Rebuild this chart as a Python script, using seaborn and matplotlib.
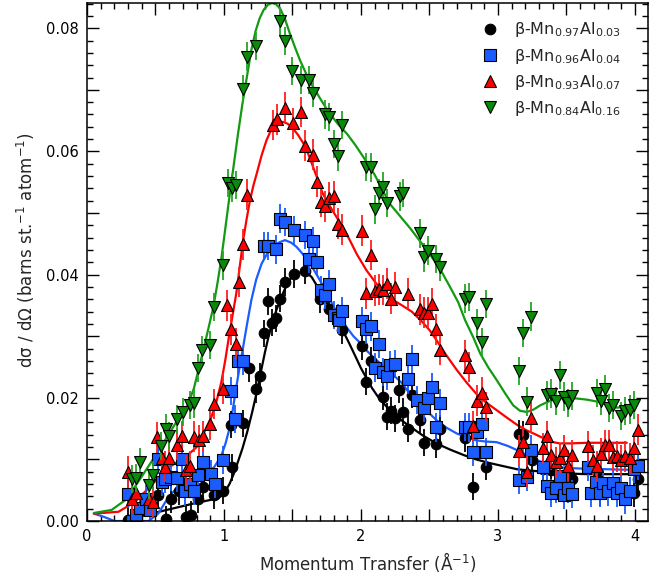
import numpy as np
import pandas as pd
import matplotlib
matplotlib.use("Agg")
import matplotlib.pyplot as plt
from matplotlib.ticker import MultipleLocator, FuncFormatter
import seaborn as sns

# ---------------------------------------------------------------- data
# beta-Mn(0.97)Al(0.03)
q_a = [0.30, 0.52, 0.58, 0.61, 0.67, 0.72, 0.76, 0.81, 0.85, 0.93, 0.995,
       1.05, 1.06, 1.14, 1.18, 1.23, 1.26, 1.29, 1.32, 1.35, 1.38, 1.41,
       1.445, 1.51, 1.59, 1.70, 1.77, 1.865, 2.01, 2.04, 2.07, 2.16, 2.19,
       2.22, 2.25, 2.28, 2.31, 2.34, 2.37, 2.43, 2.46, 2.55, 2.58, 2.76,
       2.82, 2.91, 3.15, 3.18, 3.245, 3.33, 3.39, 3.54, 3.72, 3.745, 3.99, 4.02]
s_a = [0.0002, 0.0042, 0.0003, 0.0035, 0.0048, 0.0006, 0.0010, 0.0035, 0.0055,
       0.0042, 0.0049, 0.0156, 0.0087, 0.0159, 0.0248, 0.0214, 0.0235, 0.0305,
       0.0357, 0.0322, 0.0329, 0.0361, 0.0388, 0.0401, 0.0406, 0.0360, 0.0345,
       0.0310, 0.0284, 0.0226, 0.0260, 0.0202, 0.0169, 0.0179, 0.0167, 0.0213,
       0.0177, 0.0150, 0.0205, 0.0164, 0.0127, 0.0125, 0.0150, 0.0134, 0.0056,
       0.0088, 0.0142, 0.0140, 0.0099, 0.0084, 0.0083, 0.0069, 0.0069, 0.0046,
       0.0045, 0.0069]

# beta-Mn(0.96)Al(0.04)
q_b = [0.30, 0.33, 0.36, 0.39, 0.43, 0.46, 0.52, 0.545, 0.57, 0.61, 0.66,
       0.69, 0.715, 0.75, 0.78, 0.81, 0.85, 0.905, 0.934, 0.99, 1.05, 1.08,
       1.10, 1.14, 1.29, 1.32, 1.38, 1.41, 1.445, 1.51, 1.59, 1.62, 1.65,
       1.68, 1.71, 1.74, 1.77, 1.80, 1.83, 1.84, 1.86, 2.01, 2.04, 2.07,
       2.10, 2.13, 2.16, 2.19, 2.21, 2.25, 2.34, 2.37, 2.41, 2.46, 2.49,
       2.52, 2.55, 2.58, 2.76, 2.79, 2.82, 2.85, 2.88, 2.91, 3.15, 3.21,
       3.24, 3.33, 3.355, 3.39, 3.42, 3.45, 3.48, 3.51, 3.54, 3.66, 3.68,
       3.715, 3.745, 3.77, 3.805, 3.84, 3.87, 3.90, 3.93, 3.96, 3.99, 4.02]
s_b = [0.0044, 0.0000, 0.0010, 0.0021, 0.0035, 0.0018, 0.0100, 0.0064, 0.0069,
       0.0071, 0.0070, 0.0100, 0.0048, 0.0060, 0.0049, 0.0074, 0.0095, 0.0076,
       0.0060, 0.0099, 0.0211, 0.0166, 0.0260, 0.0260, 0.0446, 0.0446, 0.0441,
       0.0491, 0.0485, 0.0472, 0.0464, 0.0425, 0.0455, 0.0420, 0.0375, 0.0367,
       0.0385, 0.0334, 0.0330, 0.0327, 0.0341, 0.0324, 0.0311, 0.0316, 0.0249,
       0.0287, 0.0242, 0.0236, 0.0253, 0.0255, 0.0230, 0.0263, 0.0196, 0.0183,
       0.0199, 0.0218, 0.0152, 0.0192, 0.0153, 0.0152, 0.0112, 0.0145, 0.0157,
       0.0112, 0.0067, 0.0072, 0.0116, 0.0088, 0.0057, 0.0046, 0.0053, 0.0073,
       0.0042, 0.0053, 0.0044, 0.0088, 0.0045, 0.0064, 0.0046, 0.0061, 0.0048,
       0.0061, 0.0046, 0.0053, 0.0035, 0.0048, 0.0084, 0.0089]

# beta-Mn(0.93)Al(0.07)
q_c = [0.30, 0.33, 0.36, 0.455, 0.48, 0.51, 0.545, 0.57, 0.60, 0.66, 0.69,
       0.72, 0.75, 0.78, 0.82, 0.845, 0.90, 0.93, 0.99, 1.02, 1.05, 1.085,
       1.11, 1.14, 1.17, 1.355, 1.385, 1.445, 1.505, 1.56, 1.59, 1.65, 1.68,
       1.71, 1.74, 1.77, 1.80, 1.83, 1.86, 2.005, 2.04, 2.07, 2.10, 2.13,
       2.16, 2.19, 2.22, 2.25, 2.34, 2.43, 2.46, 2.49, 2.52, 2.55, 2.58,
       2.76, 2.79, 2.82, 2.85, 2.88, 2.91, 3.15, 3.18, 3.21, 3.24, 3.33,
       3.36, 3.39, 3.42, 3.45, 3.48, 3.51, 3.54, 3.66, 3.69, 3.72, 3.75,
       3.78, 3.81, 3.84, 3.87, 3.90, 3.93, 3.96, 3.99, 4.02]
s_c = [0.0080, 0.0036, 0.0046, 0.0036, 0.0031, 0.0136, 0.0102, 0.0088, 0.0103,
       0.0124, 0.0138, 0.0082, 0.0089, 0.0137, 0.0131, 0.0138, 0.0157, 0.0190,
       0.0215, 0.0350, 0.0311, 0.0288, 0.0388, 0.0449, 0.0530, 0.0643, 0.0652,
       0.0671, 0.0646, 0.0664, 0.0609, 0.0595, 0.0551, 0.0518, 0.0511, 0.0525,
       0.0527, 0.0483, 0.0473, 0.0471, 0.0370, 0.0432, 0.0374, 0.0376, 0.0375,
       0.0385, 0.0361, 0.0380, 0.0369, 0.0344, 0.0338, 0.0338, 0.0353, 0.0311,
       0.0278, 0.0269, 0.0250, 0.0154, 0.0195, 0.0208, 0.0185, 0.0114, 0.0129,
       0.0080, 0.0168, 0.0118, 0.0138, 0.0107, 0.0095, 0.0102, 0.0115, 0.0090,
       0.0107, 0.0121, 0.0099, 0.0089, 0.0109, 0.0123, 0.0123, 0.0104, 0.0105,
       0.0099, 0.0105, 0.0102, 0.0118, 0.0148]

# beta-Mn(0.84)Al(0.16)
q_d = [0.33, 0.36, 0.39, 0.45, 0.48, 0.54, 0.58, 0.60, 0.66, 0.70, 0.75,
       0.78, 0.81, 0.84, 0.90, 0.93, 0.99, 1.03, 1.055, 1.09, 1.14, 1.17,
       1.23, 1.41, 1.445, 1.50, 1.56, 1.62, 1.65, 1.74, 1.77, 1.80, 1.83,
       1.86, 2.04, 2.07, 2.10, 2.13, 2.16, 2.19, 2.285, 2.31, 2.43, 2.46,
       2.49, 2.55, 2.58, 2.76, 2.79, 2.85, 2.88, 2.91, 3.155, 3.18, 3.21,
       3.24, 3.355, 3.39, 3.42, 3.45, 3.48, 3.51, 3.54, 3.72, 3.75, 3.78,
       3.81, 3.84, 3.90, 3.93, 3.96, 3.99]
s_d = [0.0068, 0.0070, 0.0096, 0.0058, 0.0074, 0.0122, 0.0150, 0.0138, 0.0165,
       0.0177, 0.0188, 0.0191, 0.0248, 0.0277, 0.0286, 0.0347, 0.0415, 0.0549,
       0.0541, 0.0545, 0.0701, 0.0754, 0.0771, 0.0811, 0.0779, 0.0731, 0.0716,
       0.0716, 0.0695, 0.0660, 0.0656, 0.0612, 0.0592, 0.0643, 0.0575, 0.0574,
       0.0506, 0.0532, 0.0543, 0.0516, 0.0527, 0.0533, 0.0467, 0.0428, 0.0439,
       0.0425, 0.0412, 0.0361, 0.0364, 0.0322, 0.0290, 0.0352, 0.0244, 0.0305,
       0.0194, 0.0332, 0.0204, 0.0207, 0.0195, 0.0237, 0.0202, 0.0192, 0.0203,
       0.0208, 0.0195, 0.0214, 0.0183, 0.0188, 0.0171, 0.0179, 0.0181, 0.0188]

# typical one-sigma uncertainty of each data set
err_a, err_b, err_c, err_d = 0.0022, 0.0023, 0.0025, 0.0023

# fitted model curves
fq_a = [0.27, 0.47, 0.62, 0.79, 0.96, 1.00, 1.04, 1.07, 1.10, 1.135, 1.17,
        1.205, 1.24, 1.27, 1.30, 1.33, 1.36, 1.385, 1.41, 1.435, 1.46, 1.485,
        1.51, 1.545, 1.58, 1.61, 1.64, 1.67, 1.70, 1.74, 1.78, 1.825, 1.87,
        1.915, 1.96, 2.00, 2.04, 2.08, 2.12, 2.165, 2.21, 2.28, 2.36, 2.45,
        2.55, 2.65, 2.75, 2.84, 2.94, 3.04, 3.14, 3.23, 3.33, 3.43, 3.53,
        3.65, 3.77, 3.88, 3.99]
fs_a = [0.0000, 0.0012, 0.0020, 0.0029, 0.0037, 0.0045, 0.0060, 0.0076, 0.0095,
        0.0118, 0.0145, 0.0176, 0.0210, 0.0243, 0.0275, 0.0304, 0.0328, 0.0344,
        0.0358, 0.0372, 0.0384, 0.0393, 0.0399, 0.0403, 0.0405, 0.0402, 0.0396,
        0.0385, 0.0372, 0.0358, 0.0343, 0.0326, 0.0308, 0.0288, 0.0267, 0.0248,
        0.0232, 0.0216, 0.0203, 0.0191, 0.0180, 0.0166, 0.0153, 0.0139, 0.0126,
        0.0116, 0.0107, 0.0100, 0.0094, 0.0089, 0.0084, 0.0082, 0.0080, 0.0078,
        0.0077, 0.0076, 0.0076, 0.0076, 0.0076]

fq_b = [0.05, 0.12, 0.20, 0.45, 0.52, 0.57, 0.62, 0.70, 0.80, 0.87, 0.93,
        0.98, 1.01, 1.04, 1.065, 1.09, 1.115, 1.14, 1.17, 1.20, 1.235, 1.275,
        1.32, 1.36, 1.40, 1.445, 1.49, 1.53, 1.565, 1.60, 1.65, 1.70, 1.75,
        1.80, 1.85, 1.90, 1.945, 1.99, 2.04, 2.09, 2.14, 2.19, 2.24, 2.29,
        2.36, 2.45, 2.55, 2.62, 2.70, 2.77, 2.84, 2.91, 2.99, 3.07, 3.14,
        3.21, 3.28, 3.355, 3.43, 3.52, 3.62, 3.80, 3.97]
fs_b = [0.0012, 0.0007, 0.0000, 0.0000, 0.0012, 0.0030, 0.0045, 0.0064, 0.0071,
        0.0076, 0.0088, 0.0106, 0.0125, 0.0150, 0.0182, 0.0218, 0.0251, 0.0283,
        0.0322, 0.0359, 0.0392, 0.0418, 0.0436, 0.0445, 0.0452, 0.0456, 0.0452,
        0.0445, 0.0436, 0.0426, 0.0410, 0.0391, 0.0370, 0.0348, 0.0330, 0.0313,
        0.0300, 0.0290, 0.0277, 0.0266, 0.0256, 0.0246, 0.0236, 0.0226, 0.0206,
        0.0185, 0.0164, 0.0152, 0.0142, 0.0136, 0.0131, 0.0129, 0.0128, 0.0122,
        0.0115, 0.0107, 0.0099, 0.0093, 0.0088, 0.0086, 0.0085, 0.0084, 0.0083]

fq_c = [0.05, 0.23, 0.35, 0.47, 0.59, 0.72, 0.81, 0.86, 0.91, 0.945, 0.98,
        1.01, 1.04, 1.065, 1.09, 1.115, 1.14, 1.165, 1.19, 1.215, 1.24, 1.275,
        1.31, 1.34, 1.37, 1.40, 1.43, 1.465, 1.50, 1.54, 1.58, 1.615, 1.65,
        1.685, 1.72, 1.77, 1.82, 1.86, 1.90, 1.97, 2.04, 2.12, 2.21, 2.30,
        2.37, 2.44, 2.50, 2.55, 2.62, 2.70, 2.77, 2.84, 2.91, 2.99, 3.07,
        3.14, 3.21, 3.28, 3.38, 3.45, 3.53, 3.65, 3.77, 3.94]
fs_c = [0.0012, 0.0015, 0.0031, 0.0058, 0.0086, 0.0104, 0.0122, 0.0146, 0.0170,
        0.0194, 0.0225, 0.0262, 0.0305, 0.0337, 0.0370, 0.0413, 0.0456, 0.0490,
        0.0521, 0.0545, 0.0565, 0.0594, 0.0618, 0.0633, 0.0643, 0.0647, 0.0648,
        0.0645, 0.0638, 0.0627, 0.0613, 0.0596, 0.0575, 0.0554, 0.0532, 0.0512,
        0.0494, 0.0479, 0.0464, 0.0433, 0.0407, 0.0383, 0.0362, 0.0350, 0.0340,
        0.0325, 0.0310, 0.0294, 0.0270, 0.0245, 0.0225, 0.0207, 0.0193, 0.0180,
        0.0167, 0.0156, 0.0147, 0.0140, 0.0129, 0.0126, 0.0126, 0.0127, 0.0127,
        0.0127]

fq_d = [0.05, 0.18, 0.28, 0.375, 0.47, 0.56, 0.65, 0.72, 0.78, 0.85, 0.92,
        0.95, 0.98, 1.005, 1.03, 1.065, 1.10, 1.135, 1.17, 1.20, 1.23, 1.26,
        1.29, 1.32, 1.35, 1.38, 1.41, 1.445, 1.48, 1.52, 1.555, 1.60, 1.65,
        1.71, 1.77, 1.83, 1.90, 1.96, 2.02, 2.10, 2.21, 2.36, 2.50, 2.58,
        2.65, 2.71, 2.76, 2.82, 2.87, 2.93, 2.99, 3.05, 3.11, 3.16, 3.21,
        3.26, 3.31, 3.37, 3.43, 3.50, 3.57, 3.65, 3.72, 3.80, 3.87, 3.99]
fs_d = [0.0013, 0.0018, 0.0034, 0.0064, 0.0096, 0.0128, 0.0160, 0.0180, 0.0215,
        0.0278, 0.0345, 0.0383, 0.0425, 0.0467, 0.0510, 0.0568, 0.0625, 0.0678,
        0.0725, 0.0765, 0.0795, 0.0816, 0.0830, 0.0838, 0.0841, 0.0839, 0.0832,
        0.0815, 0.0792, 0.0768, 0.0748, 0.0726, 0.0705, 0.0683, 0.0662, 0.0645,
        0.0628, 0.0610, 0.0590, 0.0562, 0.0515, 0.0475, 0.0434, 0.0408, 0.0380,
        0.0355, 0.0326, 0.0298, 0.0272, 0.0249, 0.0229, 0.0208, 0.0188, 0.0179,
        0.0177, 0.0181, 0.0188, 0.0194, 0.0199, 0.0200, 0.0199, 0.0197, 0.0194,
        0.0189, 0.0184, 0.0187]

labels = [r"β-Mn$_{0.97}$Al$_{0.03}$", r"β-Mn$_{0.96}$Al$_{0.04}$",
          r"β-Mn$_{0.93}$Al$_{0.07}$", r"β-Mn$_{0.84}$Al$_{0.16}$"]

# ---------------------------------------------------------------- style
sns.set_theme(style="ticks")
plt.rcParams["font.family"] = ["DejaVu Sans"]
plt.rcParams["mathtext.fontset"] = "dejavusans"

series = [
    dict(q=q_a, s=s_a, e=err_a, fq=fq_a, fs=fs_a, marker="o", size=58,
         face="#000000", bar="#000000", line="#000000"),
    dict(q=q_b, s=s_b, e=err_b, fq=fq_b, fs=fs_b, marker="s", size=66,
         face="#1a5cff", bar="#1a5cff", line="#1a5cff"),
    dict(q=q_c, s=s_c, e=err_c, fq=fq_c, fs=fs_c, marker="^", size=74,
         face="#ff0000", bar="#ff2020", line="#ff0000"),
    dict(q=q_d, s=s_d, e=err_d, fq=fq_d, fs=fs_d, marker="v", size=74,
         face="#0a8a0a", bar="#28a428", line="#129a12"),
]

fig = plt.figure(figsize=(6.63, 5.82), dpi=100)
ax = fig.add_axes([87 / 663, 61 / 582, 561 / 663, 518 / 582])

# fitted curves underneath the data
for sr in series:
    fit = pd.DataFrame({"Q": sr["fq"], "S": sr["fs"]})
    sns.lineplot(data=fit, x="Q", y="S", ax=ax, color=sr["line"], lw=1.6,
                 sort=False, estimator=None, zorder=2, legend=False)

handles = []
for k, (sr, lab) in enumerate(zip(series, labels)):
    df = pd.DataFrame({"Q": sr["q"], "S": sr["s"]})
    ax.errorbar(df["Q"], df["S"], yerr=sr["e"], fmt="none",
                ecolor=sr["bar"], elinewidth=1.3, capsize=0,
                zorder=3 + 2 * k)
    sns.scatterplot(data=df, x="Q", y="S", ax=ax, marker=sr["marker"],
                    s=sr["size"], color=sr["face"], edgecolor="black",
                    linewidth=0.8, zorder=4 + 2 * k, legend=False)
    handles.append(plt.Line2D([], [], ls="none", marker=sr["marker"],
                              markersize=np.sqrt(sr["size"]),
                              markerfacecolor=sr["face"],
                              markeredgecolor="black", markeredgewidth=0.8,
                              label=lab))

# ---------------------------------------------------------------- axes
ax.set_xlim(0, 4.095)
ax.set_ylim(0, 0.0841)
ax.xaxis.set_major_locator(MultipleLocator(0.5))
ax.xaxis.set_minor_locator(MultipleLocator(0.1))
ax.yaxis.set_major_locator(MultipleLocator(0.01))
ax.yaxis.set_minor_locator(MultipleLocator(0.002))
ax.xaxis.set_major_formatter(
    FuncFormatter(lambda v, p: f"{v:.0f}" if abs(v - round(v)) < 1e-6 else ""))
ax.yaxis.set_major_formatter(
    FuncFormatter(lambda v, p: f"{v:.2f}" if abs(v / 0.02 - round(v / 0.02)) < 1e-6 else ""))
ax.tick_params(which="both", direction="in", top=True, right=True,
               width=1.0, colors="black", labelsize=10.5)
ax.tick_params(which="major", length=8.5, pad=6)
ax.tick_params(which="minor", length=4.3)
for sp in ax.spines.values():
    sp.set_linewidth(1.1)
    sp.set_color("black")
    sp.set_zorder(20)

ax.set_xlabel("Momentum Transfer (Å$^{\\mathregular{-1}}$)", fontsize=12, labelpad=4)
ax.set_ylabel("dσ / dΩ (barns st.$^{\\mathregular{-1}}$ atom$^{\\mathregular{-1}}$)",
              fontsize=12)
ax.yaxis.set_label_coords(-0.09, 0.523)

ax.legend(handles=handles, loc="upper right", bbox_to_anchor=(0.97, 0.985),
          frameon=False, fontsize=11.5, handletextpad=0.9, labelspacing=0.45,
          borderaxespad=0.2, handlelength=1.2)

fig.savefig("out.png", dpi=100)
